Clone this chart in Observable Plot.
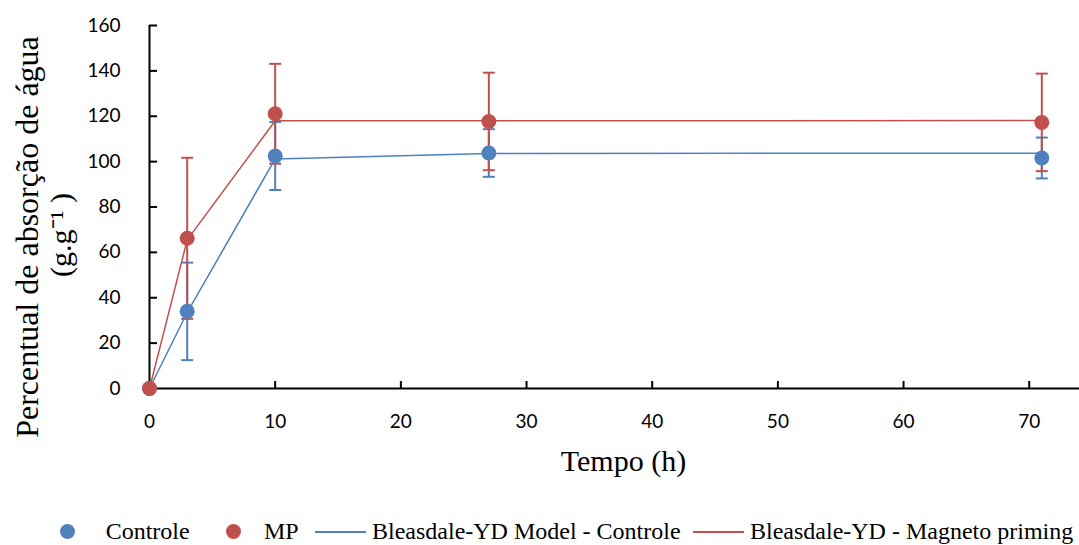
<!DOCTYPE html>
<html>
<head>
<meta charset="utf-8">
<script src="https://cdn.jsdelivr.net/npm/d3@7"></script>
<script src="https://cdn.jsdelivr.net/npm/@observablehq/plot@0.6"></script>
<style>
  html, body { margin: 0; padding: 0; background: #fff; }
  #wrap { position: relative; width: 1079px; height: 545px; overflow: hidden; }
  #legend { position: absolute; left: 0; top: 517px; width: 1079px; height: 28px;
            font-family: "Liberation Serif", "Times New Roman", serif; font-size: 24px; color: #000; }
  #legend .it { position: absolute; top: 0; height: 28px; line-height: 28px; white-space: nowrap; }
  #legend .dot { position: absolute; width: 15px; height: 15px; border-radius: 50%; top: 7px; }
  #legend .ln { position: absolute; height: 1.5px; top: 14px; }
</style>
</head>
<body>
<div id="wrap"><div id="chart"></div><div id="legend"></div></div>
<script>
// ---- data ----
const times = [0, 3, 10, 27, 71];
const controle = [0, 34, 102.5, 103.8, 101.6];
const controleErr = [0, 21.5, 15, 10.5, 9];
const mp = [0, 66.2, 121.1, 117.7, 117.3];
const mpErr = [0, 35.5, 22, 21.5, 21.5];
const modelControle = [0, 33.5, 101.2, 103.6, 103.7];
const modelMP = [0, 65.5, 118, 118, 118.1];
const xTicks = [0, 10, 20, 30, 40, 50, 60, 70];
const yTicks = [0, 20, 40, 60, 80, 100, 120, 140, 160];
const seriesNames = ["Controle", "MP", "Bleasdale-YD Model - Controle", "Bleasdale-YD - Magneto priming"];
const xTitle = "Tempo (h)";
const yTitle1 = "Percentual de absorção de água";
const yTitle2 = "(g.g\u207B\u00B9 )";

const BLUE = "#4F81BD", RED = "#C0504D";

const ctrlData = times.map((t, i) => ({t, v: controle[i], e: controleErr[i]}));
const mpData = times.map((t, i) => ({t, v: mp[i], e: mpErr[i]}));
const modelC = times.map((t, i) => ({t, v: modelControle[i]}));
const modelM = times.map((t, i) => ({t, v: modelMP[i]}));

const cap = { draw(ctx, size) { const r = Math.sqrt(size / Math.PI); ctx.moveTo(-r, 0); ctx.lineTo(r, 0); } };

function errMarks(data, color) {
  const d = data.filter(x => x.e > 0);
  return [
    Plot.ruleX(d, {x: "t", y1: x => x.v - x.e, y2: x => x.v + x.e, stroke: color, strokeWidth: 2}),
    Plot.dot(d, {x: "t", y: x => x.v + x.e, symbol: cap, r: 6, stroke: color, fill: "none", strokeWidth: 2}),
    Plot.dot(d, {x: "t", y: x => x.v - x.e, symbol: cap, r: 6, stroke: color, fill: "none", strokeWidth: 2})
  ];
}

const W = 1079, H = 510, ML = 149, MR = 0, MT = 25, MB = 122;
const innerH = H - MT - MB, innerW = W - ML - MR;
const serif = "Liberation Serif, Times New Roman, serif";

const chart = Plot.plot({
  width: W, height: H,
  marginLeft: ML, marginRight: MR, marginTop: MT, marginBottom: MB,
  style: {fontFamily: "Lato, sans-serif", fontSize: "19px", color: "#000", background: "#fff", overflow: "visible"},
  x: {domain: [0, 74]},
  y: {domain: [0, 160]},
  marks: [
    Plot.axisX({ticks: xTicks, tickSize: 0, tickPadding: 26, label: null, fontSize: 19}),
    Plot.axisY({ticks: yTicks, tickSize: 0, tickPadding: 29, label: null, fontSize: 19}),
    Plot.tickX(xTicks, {x: d => d, insetTop: innerH - 7, stroke: "#000", strokeWidth: 2}),
    Plot.tickY(yTicks, {y: d => d, insetRight: innerW - 8, stroke: "#000", strokeWidth: 2}),
    Plot.ruleX([0], {stroke: "#000", strokeWidth: 2}),
    Plot.ruleY([0], {stroke: "#000", strokeWidth: 2}),
    Plot.line(modelC, {x: "t", y: "v", stroke: BLUE, strokeWidth: 1.5}),
    Plot.line(modelM, {x: "t", y: "v", stroke: RED, strokeWidth: 1.5}),
    ...errMarks(ctrlData, BLUE),
    ...errMarks(mpData, RED),
    Plot.dot(ctrlData, {x: "t", y: "v", r: 7.5, fill: BLUE}),
    Plot.dot(mpData, {x: "t", y: "v", r: 7.5, fill: RED}),
    Plot.text([xTitle], {frameAnchor: "bottom", textAnchor: "middle", lineAnchor: "middle", dx: 9, dy: 73, fontSize: 30, fontFamily: serif, fill: "#000"}),
    Plot.text([yTitle1], {frameAnchor: "left", textAnchor: "middle", lineAnchor: "middle", rotate: -90, dx: -122, dy: 30, fontSize: 32, fontFamily: serif, fill: "#000"}),
    Plot.text([yTitle2], {frameAnchor: "left", textAnchor: "middle", lineAnchor: "middle", rotate: -90, dx: -88.6, dy: 28, fontSize: 30, fontFamily: serif, fill: "#000"})
  ]
});
document.getElementById("chart").appendChild(chart);

// ---- legend ----
const legend = document.getElementById("legend");
const items = [
  {type: "dot", color: BLUE, cx: 67.7, textX: 105.7, label: seriesNames[0]},
  {type: "dot", color: RED, cx: 233, textX: 264, label: seriesNames[1]},
  {type: "line", color: BLUE, x1: 315, x2: 366, textX: 372, label: seriesNames[2]},
  {type: "line", color: RED, x1: 693, x2: 744, textX: 750, label: seriesNames[3]}
];
for (const it of items) {
  if (it.type === "dot") {
    const d = document.createElement("div");
    d.className = "dot"; d.style.left = (it.cx - 7.5) + "px"; d.style.background = it.color;
    legend.appendChild(d);
  } else {
    const l = document.createElement("div");
    l.className = "ln"; l.style.left = it.x1 + "px"; l.style.width = (it.x2 - it.x1) + "px"; l.style.background = it.color;
    legend.appendChild(l);
  }
  const s = document.createElement("span");
  s.className = "it"; s.style.left = it.textX + "px"; s.textContent = it.label;
  legend.appendChild(s);
}
</script>
</body>
</html>
